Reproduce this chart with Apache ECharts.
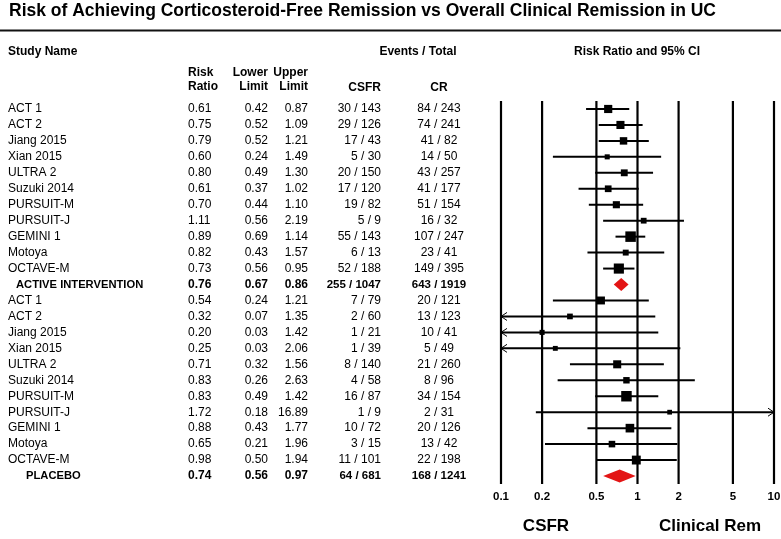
<!DOCTYPE html>
<html><head><meta charset="utf-8">
<script src="https://cdn.jsdelivr.net/npm/echarts@6/dist/echarts.min.js"></script>
<style>html,body{margin:0;padding:0;background:#fff}#c{width:781px;height:539px}</style>
</head><body><div id="c"></div>
<script>
const studies = ["ACT 1","ACT 2","Jiang 2015","Xian 2015","ULTRA 2","Suzuki 2014","PURSUIT-M","PURSUIT-J","GEMINI 1","Motoya","OCTAVE-M","ACTIVE INTERVENTION",
  "ACT 1","ACT 2","Jiang 2015","Xian 2015","ULTRA 2","Suzuki 2014","PURSUIT-M","PURSUIT-J","GEMINI 1","Motoya","OCTAVE-M","PLACEBO"];
const riskRatio = [0.61,0.75,0.79,0.60,0.80,0.61,0.70,1.11,0.89,0.82,0.73,0.76,
  0.54,0.32,0.20,0.25,0.71,0.83,0.83,1.72,0.88,0.65,0.98,0.74];
const lowerLimit = [0.42,0.52,0.52,0.24,0.49,0.37,0.44,0.56,0.69,0.43,0.56,0.67,
  0.24,0.07,0.03,0.03,0.32,0.26,0.49,0.18,0.43,0.21,0.50,0.56];
const upperLimit = [0.87,1.09,1.21,1.49,1.30,1.02,1.10,2.19,1.14,1.57,0.95,0.86,
  1.21,1.35,1.42,2.06,1.56,2.63,1.42,16.89,1.77,1.96,1.94,0.97];
const csfrEvents = ["30 / 143","29 / 126","17 / 43","5 / 30","20 / 150","17 / 120","19 / 82","5 / 9","55 / 143","6 / 13","52 / 188","255 / 1047",
  "7 / 79","2 / 60","1 / 21","1 / 39","8 / 140","4 / 58","16 / 87","1 / 9","10 / 72","3 / 15","11 / 101","64 / 681"];
const crEvents = ["84 / 243","74 / 241","41 / 82","14 / 50","43 / 257","41 / 177","51 / 154","16 / 32","107 / 247","23 / 41","149 / 395","643 / 1919",
  "20 / 121","13 / 123","10 / 41","5 / 49","21 / 260","8 / 96","34 / 154","2 / 31","20 / 126","13 / 42","22 / 198","168 / 1241"];
const summaryRows = [11, 23];
const tickValues = [0.1, 0.2, 0.5, 1, 2, 5, 10];
const tickLabels = ["0.1", "0.2", "0.5", "1", "2", "5", "10"];

const FONT = '"Liberation Sans", Arial, Helvetica, sans-serif';
const RED = '#e31515';
const isSummary = i => summaryRows.indexOf(i) >= 0;
const groupOf = i => (i <= summaryRows[0] ? 0 : 1);

// inverse-variance weights derived from the CIs (for box sizes)
const weights = studies.map((s, i) => {
  const se = (Math.log(upperLimit[i]) - Math.log(lowerLimit[i])) / (2 * 1.96);
  return 1 / (se * se);
});
const maxW = [0, 0];
weights.forEach((w, i) => { if (!isSummary(i)) maxW[groupOf(i)] = Math.max(maxW[groupOf(i)], w); });

const rowData = studies.map((s, i) => [i, riskRatio[i], lowerLimit[i], upperLimit[i]]);
const cats = studies.map((s, i) => String(i));

// layout
const COL = { nameX: 8, rrX: 188, loX: 268, hiX: 308, csfrX: 381, crX: 439 };
const summaryIndent = { 11: 16, 23: 26 };

function txt(text, x, y, align, bold, size, vAlign) {
  return { type: 'text', style: { text: text, x: x, y: y, fill: '#000',
    font: (bold ? 'bold ' : '') + (size || 12) + 'px ' + FONT,
    align: align || 'left', verticalAlign: vAlign || 'middle' } };
}

const chart = echarts.init(document.getElementById('c'), null, { renderer: 'canvas' });

const option = {
  animation: false,
  backgroundColor: '#fff',
  grid: [
    { left: 501, right: 7, top: 101, height: 383 },
    { left: 0, right: 0, top: 101, height: 383 }
  ],
  xAxis: [
    { type: 'log', logBase: 10, min: 0.1, max: 10, gridIndex: 0, show: false },
    { type: 'value', min: 0, max: 781, gridIndex: 1, show: false }
  ],
  yAxis: [
    { type: 'category', data: cats, inverse: true, gridIndex: 0, show: false },
    { type: 'category', data: cats, inverse: true, gridIndex: 1, show: false }
  ],
  graphic: [
    txt('Risk of Achieving Corticosteroid-Free Remission vs Overall Clinical Remission in UC', 9, 11, 'left', true, 17.5),
    { type: 'line', shape: { x1: 0, y1: 30.5, x2: 781, y2: 30.5 }, style: { stroke: '#111', lineWidth: 2 } },
    txt('Study Name', 8, 52, 'left', true),
    txt('Events / Total', 418, 52, 'center', true),
    txt('Risk Ratio and 95% CI', 637, 52, 'center', true),
    txt('Risk', 188, 73, 'left', true),
    txt('Ratio', 188, 87, 'left', true),
    txt('Lower', 268, 73, 'right', true),
    txt('Limit', 268, 87, 'right', true),
    txt('Upper', 308, 73, 'right', true),
    txt('Limit', 308, 87, 'right', true),
    txt('CSFR', 381, 88, 'right', true),
    txt('CR', 439, 88, 'center', true),
    txt('CSFR', 546, 526, 'center', true, 17),
    txt('Clinical Rem', 659, 526, 'left', true, 17)
  ],
  series: [
    {
      type: 'custom', name: 'refLines', xAxisIndex: 0, yAxisIndex: 0, clip: false,
      data: tickValues.map((v, k) => [v, 0, k]),
      encode: { x: 0, y: 1 },
      renderItem: function (params, api) {
        const cs = params.coordSys;
        const x = api.coord([api.value(0), 0])[0];
        const k = api.value(2);
        return { type: 'group', children: [
          { type: 'line', shape: { x1: x, y1: cs.y, x2: x, y2: cs.y + cs.height },
            style: { stroke: '#000', lineWidth: 2.2 } },
          txt(tickLabels[k], x, cs.y + cs.height + 13, 'center', true, 11.5)
        ] };
      }
    },
    {
      type: 'custom', name: 'forest', xAxisIndex: 0, yAxisIndex: 0, clip: false,
      data: rowData,
      encode: { x: [1, 2, 3], y: 0 },
      renderItem: function (params, api) {
        const cs = params.coordSys;
        const i = api.value(0);
        const rr = api.value(1), lo = api.value(2), hi = api.value(3);
        const pc = api.coord([rr, i]);
        const y = pc[1];
        const xMin = cs.x, xMax = cs.x + cs.width;
        const xl = Math.max(xMin, api.coord([lo, i])[0]);
        const xr = Math.min(xMax, api.coord([hi, i])[0]);
        const children = [];
        if (isSummary(i)) {
          const h = 6.5;
          children.push({ type: 'polygon',
            shape: { points: [[xl, y], [pc[0], y - h], [xr, y], [pc[0], y + h]] },
            style: { fill: RED } });
        } else {
          children.push({ type: 'line', shape: { x1: xl, y1: y, x2: xr, y2: y },
            style: { stroke: '#000', lineWidth: 2 } });
          if (lo < 0.1) {
            children.push({ type: 'polyline', shape: { points: [[xMin + 6, y - 4], [xMin, y], [xMin + 6, y + 4]] },
              style: { stroke: '#000', lineWidth: 1, fill: null } });
          }
          if (hi > 10) {
            children.push({ type: 'polyline', shape: { points: [[xMax - 6, y - 4], [xMax, y], [xMax - 6, y + 4]] },
              style: { stroke: '#000', lineWidth: 1, fill: null } });
          }
          const s = 3 + 7.5 * Math.sqrt(weights[i] / maxW[groupOf(i)]);
          children.push({ type: 'rect', shape: { x: pc[0] - s / 2, y: y - s / 2, width: s, height: s },
            style: { fill: '#000' } });
        }
        return { type: 'group', children: children };
      }
    },
    {
      type: 'custom', name: 'table', xAxisIndex: 1, yAxisIndex: 1, clip: false,
      data: rowData.map(r => [0, r[0]]),
      encode: { x: 0, y: 1 },
      renderItem: function (params, api) {
        const i = api.value(1);
        const y = api.coord([0, i])[1];
        const b = isSummary(i);
        const nx = b ? summaryIndent[i] : COL.nameX;
        return { type: 'group', children: [
          txt(studies[i], nx, y, 'left', b, b ? 11.2 : 12),
          txt(riskRatio[i].toFixed(2), COL.rrX, y, 'left', b),
          txt(lowerLimit[i].toFixed(2), COL.loX, y, 'right', b),
          txt(upperLimit[i].toFixed(2), COL.hiX, y, 'right', b),
          txt(csfrEvents[i], COL.csfrX, y, 'right', b, b ? 11.5 : 12),
          txt(crEvents[i], COL.crX, y, 'center', b, b ? 11.5 : 12)
        ] };
      }
    }
  ]
};
chart.setOption(option);
</script>
</body></html>
